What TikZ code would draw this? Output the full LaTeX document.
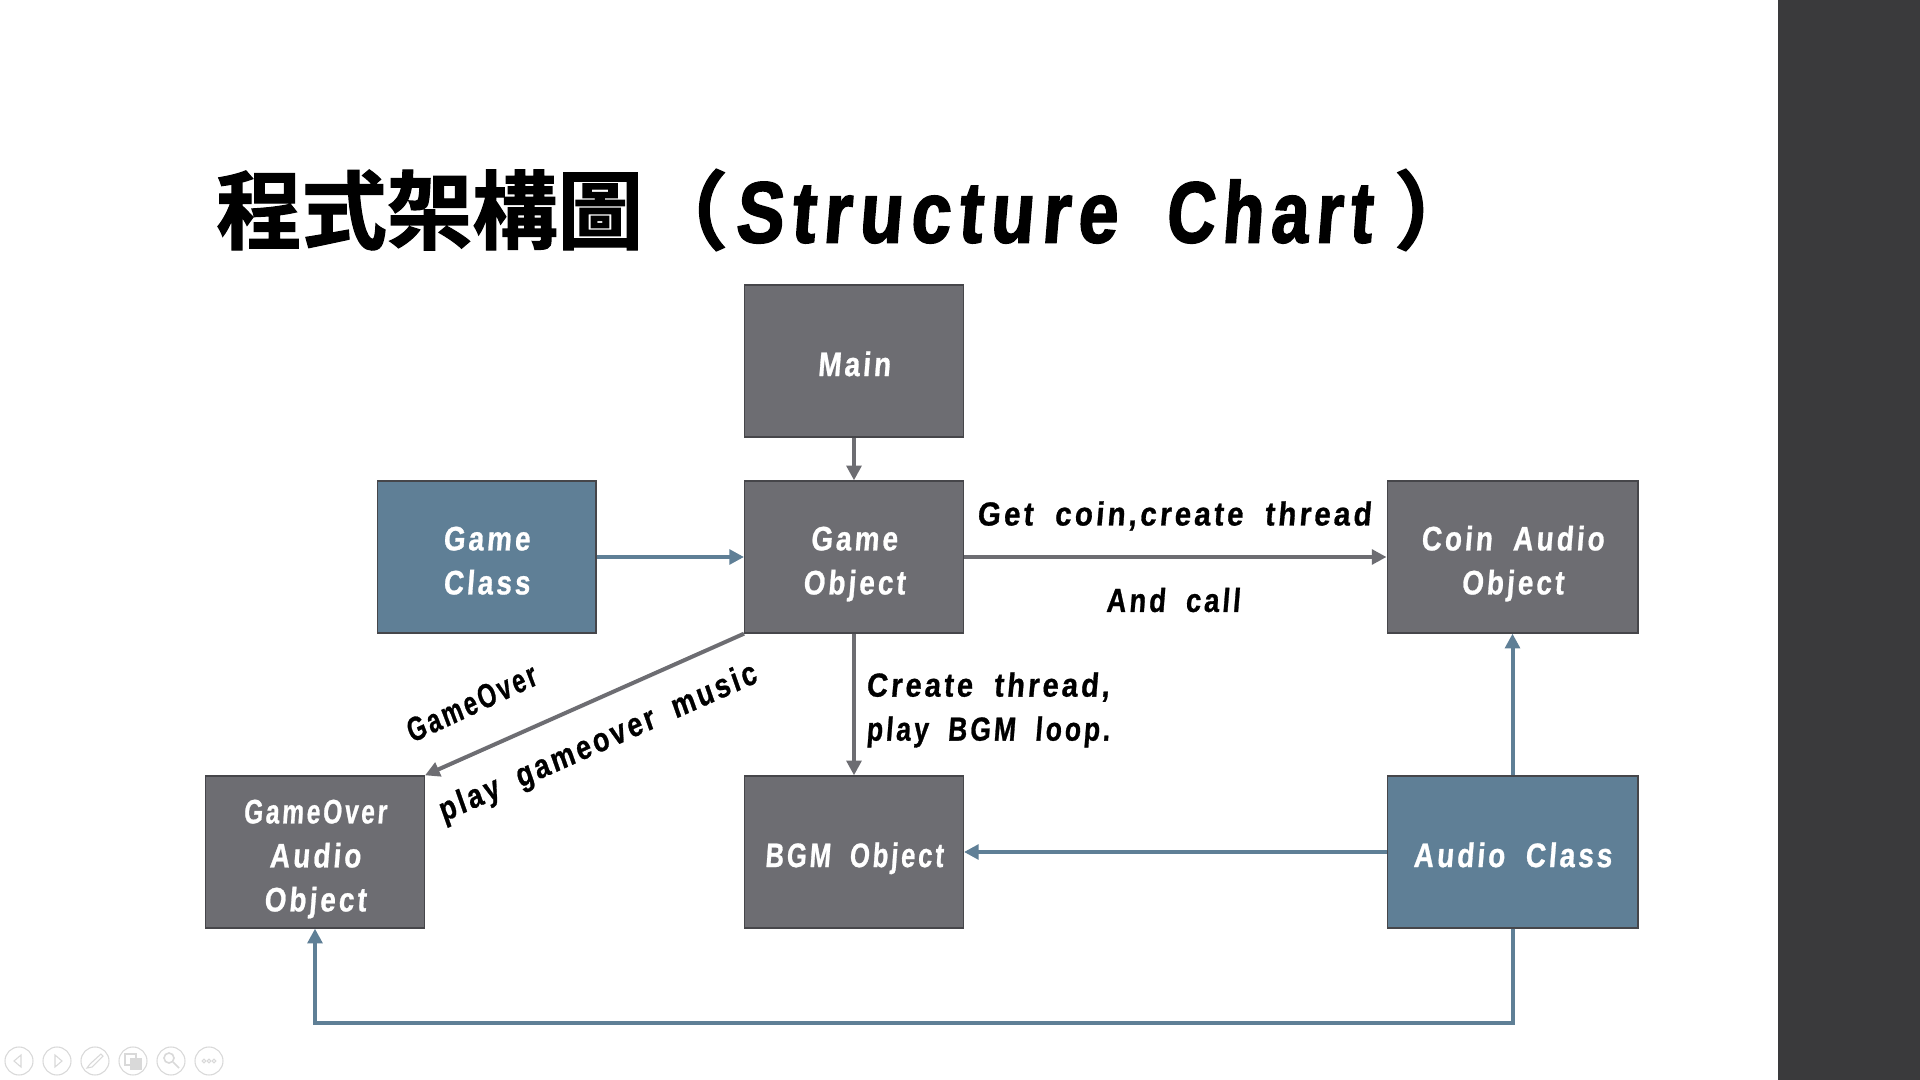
\documentclass[tikz,border=0pt]{standalone}
\usepackage{fontspec}
\usepackage{graphicx}
\usetikzlibrary{arrows.meta}
\newfontfamily\latinfont[FakeStretch=0.82,LetterSpace=9,FakeSlant=0.08,FakeBold=0.8,WordSpace=1.9]{Liberation Sans Bold}
\newfontfamily\titlefont[FakeStretch=0.8,LetterSpace=9,FakeSlant=0.08,FakeBold=2,WordSpace=1.8]{Liberation Sans Bold}
\newfontfamily\cjkfont[FakeBold=1.5]{Noto Sans CJK TC Bold}
\newcommand{\slimword}[2][0.88]{\scalebox{#1}[1]{#2}}
\newcommand{\topline}{\rule{0pt}{29.5pt}}
\newcommand{\botline}{\rule[-6.4pt]{0pt}{1pt}}
\definecolor{boxgray}{HTML}{6D6D72}
\definecolor{boxblue}{HTML}{5F7F96}
\definecolor{edgegray}{HTML}{46464A}
\definecolor{bandgray}{HTML}{3A3A3C}
\definecolor{icongray}{HTML}{D9D9D9}
\tikzset{
  boxbase/.style={draw=edgegray,line width=1pt,inner sep=0pt,align=center,text=white,
    font=\latinfont\fontsize{25.5}{33}\selectfont,minimum height=114pt},
  singleline/.style={execute at begin node={\rule{0pt}{29pt}},execute at end node={\rule[-6.4pt]{0pt}{1pt}}},
  graybox/.style={boxbase,fill=boxgray},
  bluebox/.style={boxbase,fill=boxblue},
  narrowbox/.style={minimum width=164pt},
  widebox/.style={minimum width=188pt},
  conn/.style={line width=3pt,-{Triangle[length=11pt,width=11pt]}},
  grayconn/.style={conn,draw=boxgray},
  blueconn/.style={conn,draw=boxblue},
  lbl/.style={font=\latinfont\fontsize{25}{33}\selectfont,text=black,inner sep=0pt},
  iconline/.style={draw=icongray,line width=0.8pt}
}
\begin{document}
\begin{tikzpicture}[x=0.75pt,y=-0.75pt]
\useasboundingbox (0,0) rectangle (1920,1080);
\fill[white] (0,0) rectangle (1920,1080);
\fill[bandgray] (1778,0) rectangle (1920,1080);

\node[anchor=west,inner sep=0pt] (title) at (216,210)
  {\fontsize{64}{70}\selectfont\cjkfont 程式架構圖（\hspace{5pt}{\titlefont\fontsize{65}{70}\selectfont \slimword[1.03]{Structure} \slimword[0.97]{Chart}}\hspace{17pt}）};

\node[graybox,narrowbox,singleline] (main) at (854,361) {Main};
\node[graybox,narrowbox] (game) at (854,557) {\topline Game\\Object\botline};
\node[bluebox,narrowbox] (gclass) at (486.5,557) {\topline Game\\Class\botline};
\node[graybox,widebox] (coin) at (1512.5,557) {\topline Coin Audio\\Object\botline};
\node[graybox,narrowbox] (over) at (315,852) {\topline\slimword{GameOver}\\Audio\\Object\botline};
\node[graybox,narrowbox,singleline] (bgm) at (854,852) {\slimword[0.92]{BGM Object}};
\node[bluebox,widebox,singleline] (audio) at (1512.5,852) {Audio Class};

\coordinate (corner) at (1512.5,1023);

\draw[grayconn] (main) -- (game);
\draw[blueconn] (gclass) -- (game);
\draw[grayconn] (game) -- (coin);
\draw[grayconn] (game) -- (bgm);
\draw[grayconn] (game.south west) -- (over.north east);
\draw[blueconn] (audio) -- (coin);
\draw[blueconn] (audio) -- (bgm);
\draw[blueconn] (audio.south) -- (corner) -| (over.south);

\node[lbl] (l1) at (1174,516) {\slimword[1.08]{Get coin,create thread}};
\node[lbl] (l2) at (1173,600) {And call};
\node[lbl,anchor=west,align=left] (l3) at (866,710) {\slimword[1.06]{Create thread,}\\\slimword[0.97]{play BGM loop.}};
\node[lbl,rotate=25] (l4) at (471,703) {\slimword{GameOver}};
\node[lbl,rotate=24] (l5) at (598,744) {play gameover music};

% slide-show control icons
\foreach \cx in {19,57,95,133,171,209}
  \draw[iconline] (\cx,1061) circle (14);
\draw[iconline] (21,1055) -- (14,1061) -- (21,1067) -- cycle;
\draw[iconline] (55,1055) -- (62,1061) -- (55,1067) -- cycle;
\draw[iconline] (87,1068) -- (90,1064) -- (101,1054) -- (103,1056) -- (92,1067) -- cycle;
\draw[iconline] (125,1054) rectangle (136,1065);
\draw[iconline,fill=icongray] (131,1059) rectangle (141,1069);
\draw[iconline,line width=1.2pt] (169,1058) circle (5);
\draw[iconline,line width=1.2pt] (173,1062) -- (179,1068);
\foreach \dx in {-5,0,5}
  \draw[iconline] (209+\dx,1061) circle (1.8);
\end{tikzpicture}
\end{document}
